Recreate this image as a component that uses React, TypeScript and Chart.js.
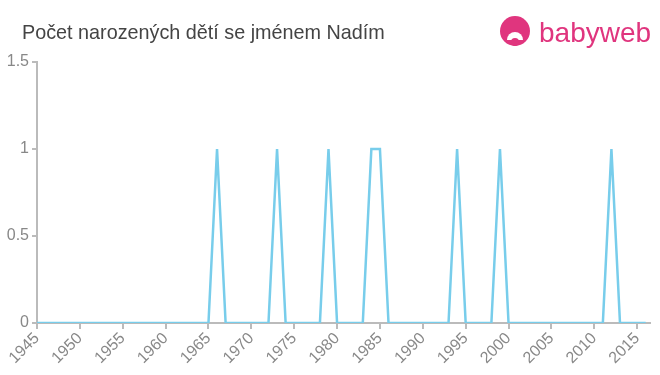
import React, { useEffect, useRef } from "react";
import { Chart, registerables } from "chart.js";

Chart.register(...registerables);

const TITLE = "Počet narozených dětí se jménem Nadím";
const startYear = 1945;
const endYear = 2016;
const years: number[] = [];
for (let y = startYear; y <= endYear; y++) years.push(y);
const peakYears = [1966, 1973, 1979, 1984, 1985, 1994, 1999, 2012];
const counts: number[] = years.map((y) => (peakYears.includes(y) ? 1 : 0));
const yTicks = [0, 0.5, 1, 1.5];

const headerPlugin = {
  id: "header",
  afterDraw(chart: any) {
    const ctx = chart.ctx as CanvasRenderingContext2D;
    ctx.save();
    ctx.fillStyle = "#444";
    ctx.font = "19.8px 'Liberation Sans', Arial, sans-serif";
    ctx.textBaseline = "alphabetic";
    ctx.textAlign = "left";
    ctx.fillText(TITLE, 22, 39);
    // logo
    const pink = "#e0357e";
    ctx.fillStyle = pink;
    ctx.beginPath();
    ctx.arc(515, 31, 15, 0, Math.PI * 2);
    ctx.fill();
    ctx.fillStyle = "#fff";
    ctx.beginPath();
    ctx.arc(515, 40, 8, Math.PI, 0);
    ctx.fill();
    ctx.fillStyle = pink;
    ctx.beginPath();
    ctx.arc(515, 42, 4, 0, Math.PI * 2);
    ctx.fill();
    ctx.fillStyle = pink;
    ctx.font = "28px 'Liberation Sans', Arial, sans-serif";
    ctx.fillText("babyweb", 539, 42);
    ctx.restore();
  },
};

export default function App() {
  const ref = useRef<HTMLCanvasElement>(null);
  useEffect(() => {
    document.body.style.margin = "0";
    const chart = new Chart(ref.current!, {
      type: "line",
      data: {
        labels: years,
        datasets: [
          {
            data: years.map((y, i) => ({ x: y, y: counts[i] })),
            borderColor: "rgb(120,205,235)",
            borderWidth: 2.5,
            pointRadius: 0,
            tension: 0,
            fill: false,
          },
        ],
      },
      options: {
        animation: false,
        responsive: false,
        layout: { padding: { top: 62, right: 10, left: 0, bottom: 0 } },
        plugins: { legend: { display: false }, tooltip: { enabled: false } },
        scales: {
          x: {
            type: "linear",
            min: startYear,
            max: endYear + 0.5,
            border: { color: "#bbb", width: 2 },
            grid: { display: true, drawOnChartArea: false, color: "#bbb", tickLength: 6, lineWidth: 2 },
            ticks: {
              stepSize: 5,
              includeBounds: false,
              minRotation: 45,
              maxRotation: 45,
              color: "#888",
              padding: 0,
              font: { size: 16, family: "'Liberation Sans', Arial, sans-serif" },
              callback: (v: any) => String(v),
            },
            afterFit: (s: any) => {
              s.height = 52;
            },
          },
          y: {
            min: 0,
            max: 1.5,
            afterBuildTicks: (s: any) => {
              s.ticks = yTicks.map((v) => ({ value: v }));
            },
            border: { color: "#bbb", width: 2 },
            grid: { display: true, drawOnChartArea: false, color: "#bbb", tickLength: 5, lineWidth: 2 },
            ticks: {
              color: "#888",
              padding: 3,
              font: { size: 16, family: "'Liberation Sans', Arial, sans-serif" },
              callback: (v: any) => String(v),
            },
            afterFit: (s: any) => {
              s.width = 37;
            },
          },
        },
      },
      plugins: [headerPlugin],
    } as any);
    return () => chart.destroy();
  }, []);
  return (
    <div style={{ width: 660, height: 375 }}>
      <canvas ref={ref} width={660} height={375} />
    </div>
  );
}
